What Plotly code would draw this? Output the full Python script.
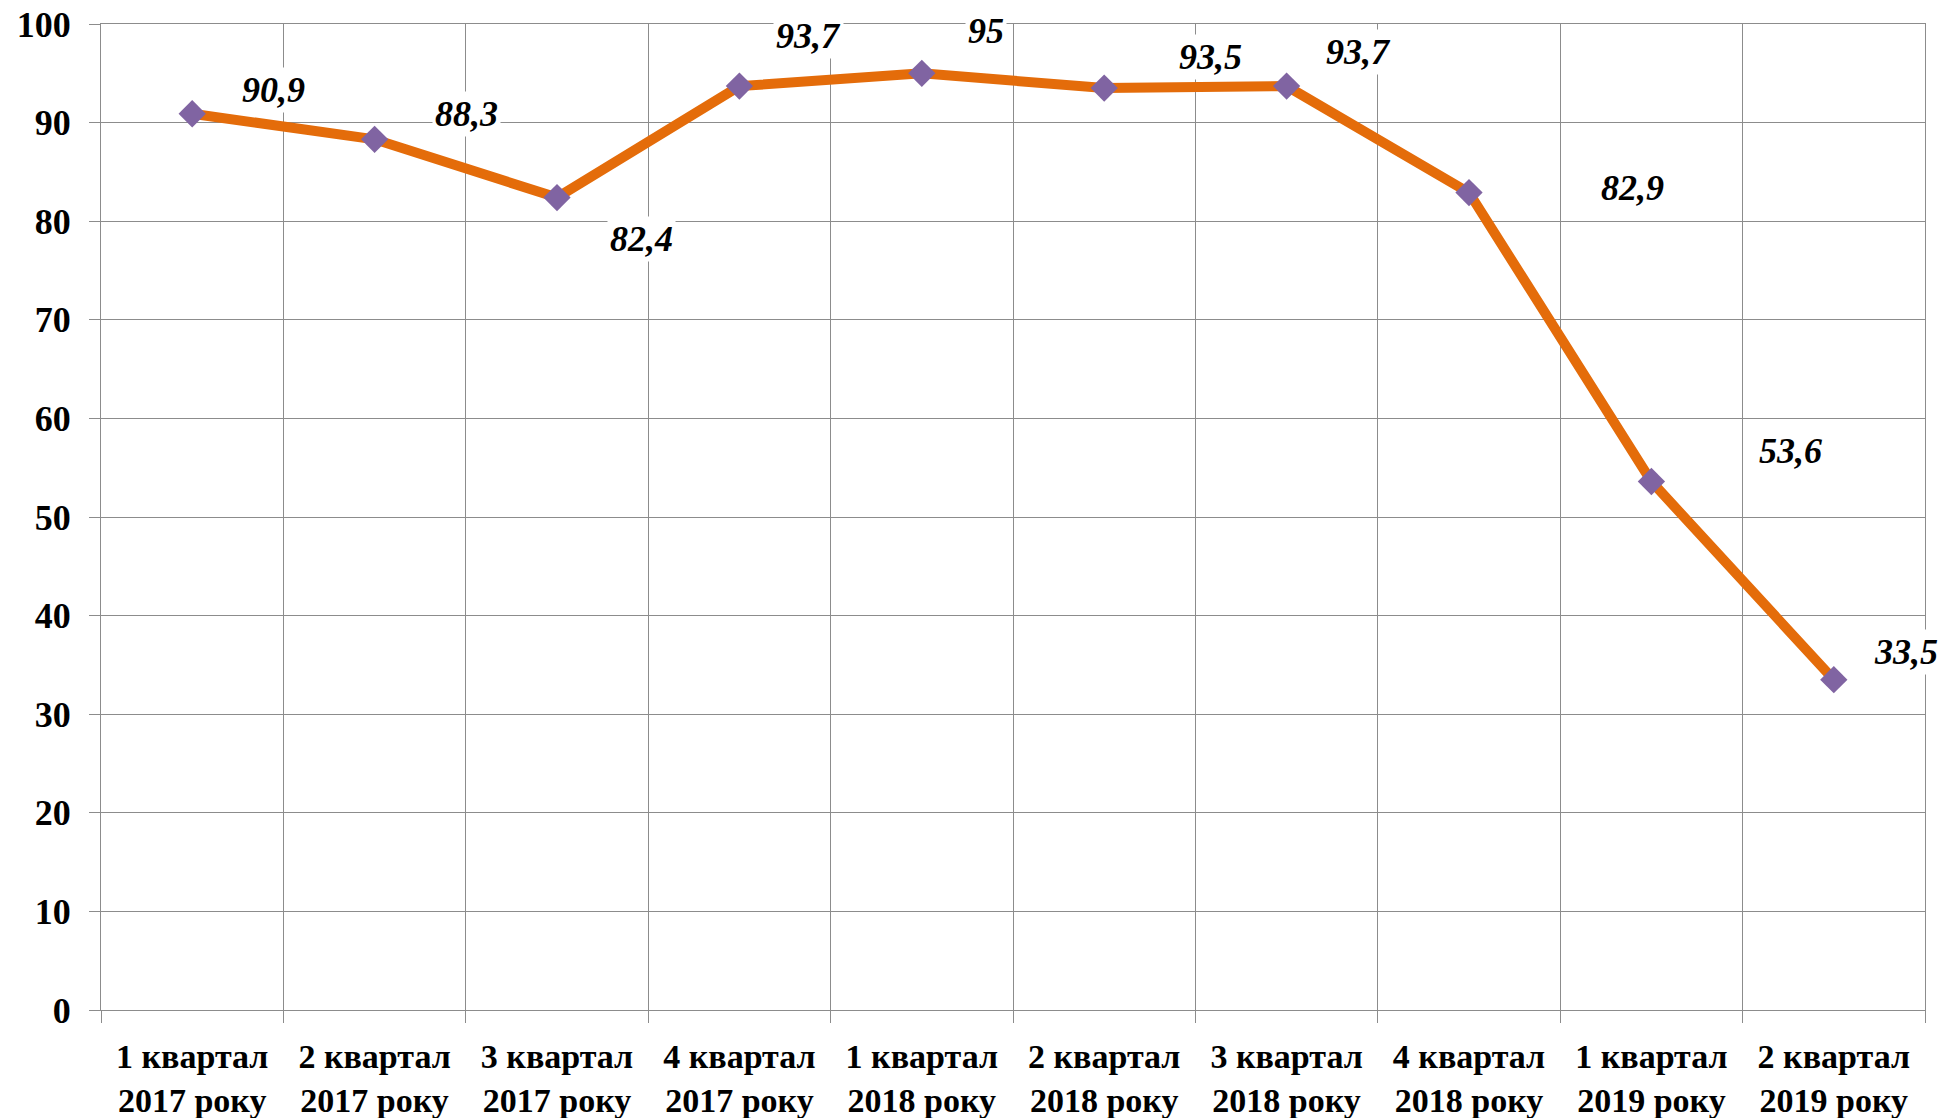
import plotly.graph_objects as go

categories = ["1 квартал<br>2017 року", "2 квартал<br>2017 року", "3 квартал<br>2017 року",
              "4 квартал<br>2017 року", "1 квартал<br>2018 року", "2 квартал<br>2018 року",
              "3 квартал<br>2018 року", "4 квартал<br>2018 року", "1 квартал<br>2019 року",
              "2 квартал<br>2019 року"]
values = [90.9, 88.3, 82.4, 93.7, 95.0, 93.5, 93.7, 82.9, 53.6, 33.5]
value_labels = ["90,9", "88,3", "82,4", "93,7", "95", "93,5", "93,7", "82,9", "53,6", "33,5"]
y_ticks = [0, 10, 20, 30, 40, 50, 60, 70, 80, 90, 100]

# label pixel offsets (dx right, dy up) relative to each point
label_dx = [81, 92, 84, 69, 64, 106, 72, 163, 139, 72]
label_dy = [24, 25, -41, 50, 42, 31, 34, 5, 31, 28]

FONT = "Liberation Serif"
GRID = "#8c8c8c"

fig = go.Figure()
fig.add_trace(go.Scatter(
    x=list(range(len(categories))), y=values, mode="lines+markers",
    line=dict(color="#E46C0A", width=10),
    marker=dict(symbol="diamond", size=21, color="#8064A2"),
    hoverinfo="skip", showlegend=False, cliponaxis=False,
))

for i, (v, t) in enumerate(zip(values, value_labels)):
    fig.add_annotation(
        x=i, y=v, text=t, showarrow=False,
        xshift=label_dx[i], yshift=label_dy[i],
        font=dict(family=FONT, size=36, color="black", weight="bold", style="italic"),
        bgcolor="white", borderpad=2,
    )

fig.update_layout(
    width=1944, height=1118,
    margin=dict(l=101, r=19, t=24, b=108, autoexpand=False),
    plot_bgcolor="white", paper_bgcolor="white",
    xaxis=dict(
        range=[-0.5, len(categories) - 0.5],
        tickmode="array", tickvals=[i + 0.5 for i in range(-1, len(categories))],
        ticktext=[""] * (len(categories) + 1),
        showgrid=True, gridcolor=GRID, gridwidth=1.3,
        ticks="outside", ticklen=12, tickcolor=GRID, tickwidth=1.3,
        showline=True, linecolor=GRID, linewidth=1.3, mirror=True,
        zeroline=False, fixedrange=True, automargin=False,
    ),
    xaxis2=dict(
        overlaying="x", side="bottom", range=[-0.5, len(categories) - 0.5],
        tickmode="array", tickvals=list(range(len(categories))), ticktext=categories,
        showgrid=False, showline=False, ticks="", zeroline=False, automargin=False,
        ticklabelstandoff=23,
        tickfont=dict(family=FONT, size=34, color="black", weight="bold"),
    ),
    yaxis=dict(
        range=[0, 100], tickvals=y_ticks,
        showgrid=True, gridcolor=GRID, gridwidth=1.3,
        ticks="outside", ticklen=11, tickcolor=GRID, tickwidth=1.3,
        showline=True, linecolor=GRID, linewidth=1.3, mirror=True,
        zeroline=False, ticklabelstandoff=11, automargin=False,
        tickfont=dict(family=FONT, size=36, color="black", weight="bold"),
    ),
)
# invisible trace to activate the label axis
fig.add_trace(go.Scatter(x=[0], y=[None], xaxis="x2", showlegend=False, hoverinfo="skip"))

# remove the default 8px page margin so the figure fills the window exactly
fig.write_html("out.html", config={"displayModeBar": False},
               post_script="document.body.style.margin='0';")
